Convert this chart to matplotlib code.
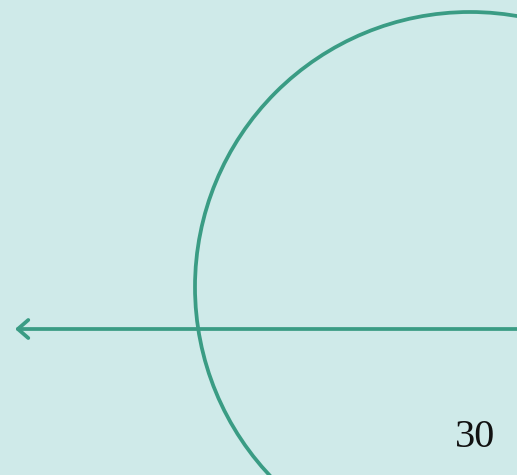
import matplotlib
matplotlib.use("Agg")
import matplotlib.pyplot as plt
from matplotlib.patches import Circle

# Scene elements (pixel-space coordinates of the reference)
circle_center = (470, 287)
circle_radius = 275
arrow_start = (517, 329)
arrow_end = (15, 329)
label_text = "30"
label_pos = (475, 447)

line_color = "#3a9c84"
bg_color = "#cfeae9"

fig = plt.figure(figsize=(5.17, 4.75), dpi=100)
fig.patch.set_facecolor(bg_color)
ax = fig.add_axes([0, 0, 1, 1])
ax.set_facecolor(bg_color)
ax.set_xlim(0, 517)
ax.set_ylim(475, 0)
ax.set_aspect("auto")
ax.axis("off")

ax.add_patch(Circle(circle_center, circle_radius, fill=False,
                    edgecolor=line_color, linewidth=2.7))

ax.annotate("", xy=arrow_end, xytext=arrow_start,
            arrowprops=dict(arrowstyle="->,head_length=0.75,head_width=0.65",
                            color=line_color, lw=2.7,
                            shrinkA=0, shrinkB=0))

ax.text(label_pos[0], label_pos[1], label_text, fontsize=29,
        family="Liberation Serif", color="#111111",
        ha="center", va="baseline")

fig.savefig("out.png", dpi=100, facecolor=bg_color)
